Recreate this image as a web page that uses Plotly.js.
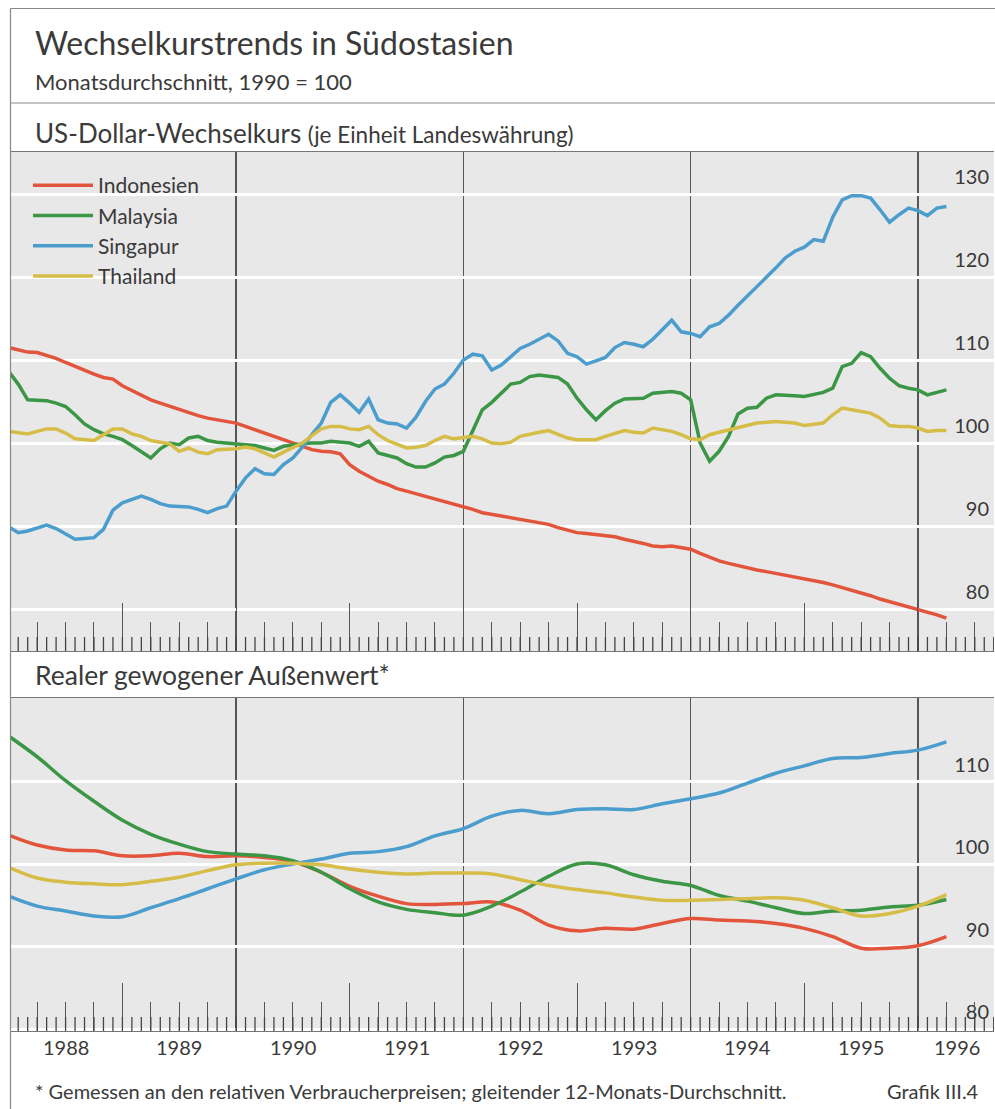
<!DOCTYPE html>
<html><head><meta charset="utf-8">
<script src="https://cdn.plot.ly/plotly-3.0.1.min.js"></script>
<style>html,body{margin:0;padding:0;background:#fff}</style>
</head><body><div id="chart" style="width:995px;height:1109px"></div>
<script>
// ---- data ----
const seriesNames = ['Indonesien', 'Malaysia', 'Singapur', 'Thailand'];
const seriesColors = ['#e2553c', '#3b9646', '#4a9dcc', '#d6bd47'];
const startYear = 1988;
const yearLabels = ['1988','1989','1990','1991','1992','1993','1994','1995','1996'];
const usdTickVals = [80, 90, 100, 110, 120, 130];
const realTickVals = [80, 90, 100, 110];

// US-Dollar-Wechselkurs, monthly Jan 1988 – Apr 1996 (1990 = 100)
const usdIndonesien = [111.5,111.2,110.95,110.9,110.6,110.2,109.7,109.2,108.8,108.3,
107.9,107.7,106.9,106.3,105.7,105.2,104.8,104.4,104.0,103.7,
103.3,103.0,102.8,102.5,102.4,102.0,101.6,101.1,100.7,100.3,
99.9,99.5,99.2,99.0,98.95,98.7,97.4,96.6,96.0,95.4,
95.0,94.5,94.2,93.9,93.6,93.3,92.9,92.6,92.3,92.0,
91.6,91.4,91.1,90.9,90.7,90.6,90.4,90.2,89.8,89.5,
89.2,89.1,89.0,88.9,88.7,88.4,88.2,87.9,87.6,87.5,
87.6,87.4,87.2,86.7,86.2,85.8,85.5,85.2,85.0,84.7,
84.5,84.3,84.1,83.9,83.6,83.4,83.2,82.9,82.6,82.2,
81.9,81.6,81.2,80.9,80.6,80.2,79.9,79.6,79.3,78.9];
const usdMalaysia = [108.6,107.1,105.2,105.2,105.1,104.8,104.4,103.4,102.3,101.6,
101.1,100.8,100.4,99.7,99.0,98.2,99.3,100.0,99.8,100.6,
100.8,100.3,100.1,100.0,99.9,99.9,99.7,99.4,99.1,99.6,
99.8,99.9,100.0,100.0,100.2,100.1,100.0,99.6,100.2,98.8,
98.5,98.2,97.5,97.1,97.1,97.6,98.3,98.5,99.0,101.5,
104.0,104.9,106.0,107.1,107.3,108.0,108.2,108.1,107.9,107.1,
105.4,104.0,102.8,103.9,104.8,105.3,105.4,105.4,106.0,106.1,
106.2,106.0,105.2,100.0,97.8,99.0,100.8,103.5,104.2,104.3,
105.4,105.8,105.8,105.7,105.6,105.9,106.1,106.6,109.2,109.6,
110.9,110.4,109.0,107.8,106.9,106.6,106.4,105.8,106.1,106.4];
const usdSingapur = [89.9,89.2,89.4,89.7,90.1,89.7,89.1,88.4,88.5,88.6,
89.6,91.9,92.8,93.2,93.6,93.2,92.7,92.4,92.4,92.3,
92.0,91.6,92.1,92.4,94.2,95.8,96.9,96.3,96.2,97.4,
98.2,99.5,101.0,102.4,104.9,105.8,104.8,103.7,105.3,102.8,
102.4,102.3,101.8,103.1,105.0,106.5,107.1,108.4,110.0,110.7,
110.5,108.8,109.4,110.4,111.4,111.9,112.5,113.1,112.3,110.8,
110.4,109.5,109.9,110.3,111.5,112.1,111.9,111.6,112.5,113.6,
114.8,113.4,113.2,112.8,114.0,114.4,115.4,116.6,117.7,118.8,
120.0,121.1,122.3,123.1,123.6,124.5,124.3,127.2,129.3,129.8,
129.8,129.5,128.1,126.6,127.5,128.3,128.0,127.4,128.3,128.5];
const usdThailand = [101.4,101.2,101.1,101.4,101.7,101.7,101.2,100.5,100.4,100.3,
101.0,101.7,101.7,101.1,100.8,100.3,100.1,99.9,99.0,99.4,
98.9,98.7,99.2,99.2,99.3,99.5,99.3,98.8,98.3,98.9,
99.4,100.0,100.9,101.7,102.0,102.0,101.7,101.6,102.0,101.0,
100.3,99.8,99.4,99.5,99.7,100.3,100.8,100.5,100.7,100.8,
100.5,100.0,99.9,100.1,100.8,101.1,101.3,101.5,101.1,100.6,
100.4,100.4,100.4,100.8,101.2,101.5,101.3,101.2,101.8,101.6,
101.4,101.0,100.5,100.4,101.0,101.3,101.6,101.9,102.2,102.4,
102.5,102.6,102.5,102.4,102.1,102.2,102.4,103.4,104.2,104.0,
103.8,103.6,103.0,102.1,102.0,102.0,101.8,101.4,101.5,101.5];

// Realer gewogener Außenwert, quarterly readings Jan 1988 – Apr 1996
const realIndonesien = [103.5,102.3,101.7,101.6,101.0,101.0,101.3,100.9,101.0,100.8,100.3,99.0,97.3,96.1,95.2,95.1,95.2,95.4,94.4,92.6,91.9,92.2,92.1,92.8,93.4,93.2,93.1,92.8,92.2,91.2,89.8,89.8,90.1,91.2];
const realMalaysia = [115.5,113.0,110.1,107.6,105.3,103.6,102.4,101.5,101.2,101.0,100.4,99.0,97.0,95.4,94.5,94.1,93.8,94.9,96.6,98.5,100.0,99.9,98.7,97.9,97.4,96.2,95.5,94.7,94.0,94.3,94.4,94.8,95.0,95.7];
const realSingapur = [96.1,94.9,94.3,93.7,93.6,94.7,95.8,97.0,98.2,99.3,100.0,100.6,101.3,101.5,102.1,103.4,104.3,105.8,106.5,106.1,106.6,106.7,106.6,107.3,107.9,108.6,109.8,111.0,111.9,112.8,112.9,113.4,113.8,114.8];
const realThailand = [99.6,98.3,97.8,97.6,97.5,97.9,98.4,99.2,99.9,100.1,100.1,99.9,99.4,99.0,98.8,98.9,98.9,98.8,98.1,97.4,96.9,96.5,96.0,95.6,95.6,95.7,95.8,95.9,95.6,94.7,93.7,94.0,94.9,96.3];

// ---- build ----
const usdSeries = [usdIndonesien, usdMalaysia, usdSingapur, usdThailand];
const realSeries = [realIndonesien, realMalaysia, realSingapur, realThailand];
const monthX = usdIndonesien.map((_, i) => startYear + i / 12);
const quarterX = realIndonesien.map((_, i) => startYear + i * 3 / 12);
// month boundaries along the whole time axis (Jan 1988 – Sep 1996), used for the short tick marks
const monthTickVals = Array.from({length: 105}, (_, i) => startYear + i / 12);

const W = 995, H = 1109;
const px = p => p / W;
const py = p => 1 - p / H;
const FONT = 'Lato, "Open Sans", "DejaVu Sans", sans-serif';
const TXT = '#3a3a3a';
const DARK = '#555';
const PANEL = '#e8e8e8';

// tick strips: [x axis, y axis, panel bottom px, strip height px, period in years]
const strips = [
  ['x3', 'y5', 651, 48, 1],
  ['x4', 'y6', 651, 29, 0.25],
  ['x6', 'y8', 1031, 48, 1],
  ['x7', 'y9', 1031, 29, 0.25]
];

const traces = [];
// empty helper traces: they register the tick-strip subplots so their axes get drawn
strips.forEach(([xa, ya]) => traces.push({
  type: 'scatter', mode: 'lines', x: [], y: [], xaxis: xa, yaxis: ya, showlegend: false, hoverinfo: 'skip'
}));
usdSeries.forEach((s, k) => traces.push({
  type: 'scatter', mode: 'lines', x: monthX, y: s, name: seriesNames[k],
  xaxis: 'x', yaxis: 'y', line: {color: seriesColors[k], width: 3.5},
  hoverinfo: 'skip'
}));
realSeries.forEach((s, k) => traces.push({
  type: 'scatter', mode: 'lines', x: quarterX, y: s, name: seriesNames[k],
  xaxis: 'x2', yaxis: 'y2', showlegend: false,
  line: {color: seriesColors[k], width: 3.5, shape: 'spline', smoothing: 1.0},
  hoverinfo: 'skip'
}));

const xRange = [1988.011, 1996.669];
const xDom = [px(10), px(994)];
const topDom = [py(651), py(152)];
const botDom = [py(1031), py(698)];

// main x: two-year vertical rules + frame
function gridX(anchor) {
  return {domain: xDom, range: xRange, anchor: anchor, tickmode: 'linear', tick0: 1990, dtick: 2,
    showgrid: true, gridcolor: DARK, gridwidth: 1.2, ticks: '', showticklabels: false,
    showline: true, linecolor: '#777', linewidth: 1.2, mirror: true, zeroline: false, fixedrange: true};
}
// strip x axis: its grid lines, confined to a short strip, act as the time-axis tick marks
function stripX(anchor, period) {
  return {domain: xDom, range: xRange, anchor: anchor, tickmode: 'linear', tick0: 1988, dtick: period,
    showgrid: true, gridcolor: DARK, gridwidth: 1, ticks: '', showticklabels: false,
    showline: false, zeroline: false, fixedrange: true};
}
function stripY(bottomPx, heightPx) {
  return {domain: [py(bottomPx), py(bottomPx - heightPx)], range: [0, 1], showgrid: false, zeroline: false,
    showline: false, showticklabels: false, ticks: '', fixedrange: true};
}
function valueY(dom, range, vals, anchor) {
  return {domain: dom, range: range, anchor: anchor, side: 'right', tickmode: 'array', tickvals: vals,
    ticktext: vals.map(String), ticklabelposition: 'inside', ticklabelshift: -17, ticklabelstandoff: 2,
    ticks: '', showgrid: true, gridcolor: '#ffffff', gridwidth: 3, zeroline: false, showline: false,
    tickfont: {family: FONT, size: 20, color: TXT}, fixedrange: true};
}
function baseY(over, dom, range, anchor) {
  return {domain: dom, range: range, overlaying: over, anchor: anchor, side: 'right', tickmode: 'array',
    tickvals: [100], showticklabels: false, ticks: '', showgrid: true, gridcolor: DARK, gridwidth: 1.5,
    zeroline: false, showline: false, fixedrange: true};
}

const topRange = [74.94, 135.06];
const botRange = [79.76, 120.12];
const labelPos = yearLabels.map((y, i) => i < yearLabels.length - 1 ? Number(y) + 0.5 : Number(y) + 0.34);

const annotations = [
  {xref: 'paper', yref: 'paper', x: px(33), y: py(42), xanchor: 'left', yanchor: 'middle', showarrow: false,
    text: 'Wechselkurstrends in Südostasien', font: {family: FONT, size: 32, color: TXT}},
  {xref: 'paper', yref: 'paper', x: px(33), y: py(82), xanchor: 'left', yanchor: 'middle', showarrow: false,
    text: 'Monatsdurchschnitt, 1990 = 100', font: {family: FONT, size: 22, color: TXT}},
  {xref: 'paper', yref: 'paper', x: px(33), y: py(133), xanchor: 'left', yanchor: 'middle', showarrow: false,
    text: 'US-Dollar-Wechselkurs <span style="font-size:22.5px">(je Einheit Landeswährung)</span>', font: {family: FONT, size: 26, color: TXT}},
  {xref: 'paper', yref: 'paper', x: px(33), y: py(675), xanchor: 'left', yanchor: 'middle', showarrow: false,
    text: 'Realer gewogener Außenwert*', font: {family: FONT, size: 26.5, color: TXT}},
  {xref: 'paper', yref: 'paper', x: px(33), y: py(1091), xanchor: 'left', yanchor: 'middle', showarrow: false,
    text: '* Gemessen an den relativen Verbraucherpreisen; gleitender 12-Monats-Durchschnitt.', font: {family: FONT, size: 20, color: TXT}},
  {xref: 'paper', yref: 'paper', x: px(981), y: py(1091), xanchor: 'right', yanchor: 'middle', showarrow: false,
    text: 'Grafik III.4', font: {family: FONT, size: 20, color: TXT}}
];
// year labels, centred in each year on the lower time axis
yearLabels.forEach((lab, i) => annotations.push({
  xref: 'x2', yref: 'paper', x: labelPos[i], y: py(1047), xanchor: 'center', yanchor: 'middle', showarrow: false,
  text: lab, font: {family: FONT, size: 20, color: TXT}
}));

const shapes = [
  // grey panel backgrounds
  {type: 'rect', xref: 'paper', yref: 'paper', layer: 'below', x0: xDom[0], x1: xDom[1], y0: topDom[0], y1: topDom[1], fillcolor: PANEL, line: {width: 0}},
  {type: 'rect', xref: 'paper', yref: 'paper', layer: 'below', x0: xDom[0], x1: xDom[1], y0: botDom[0], y1: botDom[1], fillcolor: PANEL, line: {width: 0}},
  // frame
  {type: 'line', xref: 'paper', yref: 'paper', x0: px(10.5), x1: px(10.5), y0: py(8.5), y1: 0, line: {color: '#888', width: 1.2}},
  {type: 'line', xref: 'paper', yref: 'paper', x0: px(10.5), x1: 1, y0: py(8.5), y1: py(8.5), line: {color: '#888', width: 1.2}},
  {type: 'line', xref: 'paper', yref: 'paper', x0: px(10.5), x1: 1, y0: py(103), y1: py(103), line: {color: '#888', width: 1.2}}
];
// short monthly tick marks along the bottom of each panel, placed through the time axes
[['x', 651], ['x2', 1031]].forEach(([xr, bottomPx]) => monthTickVals.forEach(v => shapes.push({
  type: 'line', xref: xr, yref: 'paper', x0: v, x1: v, y0: py(bottomPx), y1: py(bottomPx - 14),
  line: {color: '#444', width: 1.3}, layer: 'above'
})));

const layout = {
  width: W, height: H, margin: {l: 0, r: 0, t: 0, b: 0},
  paper_bgcolor: '#ffffff', plot_bgcolor: 'rgba(0,0,0,0)',
  font: {family: FONT, color: TXT},
  showlegend: true,
  legend: {x: px(28), y: py(165), xanchor: 'left', yanchor: 'top', bgcolor: 'rgba(0,0,0,0)',
    font: {family: FONT, size: 21, color: TXT}, itemwidth: 60, tracegroupgap: 0},
  xaxis: gridX('y'),
  yaxis: valueY(topDom, topRange, usdTickVals, 'x'),
  yaxis3: baseY('y', topDom, topRange, 'x'),
  xaxis2: gridX('y2'),
  yaxis2: valueY(botDom, botRange, realTickVals, 'x2'),
  yaxis4: baseY('y2', botDom, botRange, 'x2'),
  shapes: shapes,
  annotations: annotations
};
strips.forEach(([xa, ya, bottomPx, heightPx, period]) => {
  layout['xaxis' + xa.slice(1)] = stripX(ya, period);
  layout['yaxis' + ya.slice(1)] = stripY(bottomPx, heightPx);
});

Plotly.newPlot('chart', traces, layout, {displayModeBar: false, staticPlot: true});
</script>
</body></html>
